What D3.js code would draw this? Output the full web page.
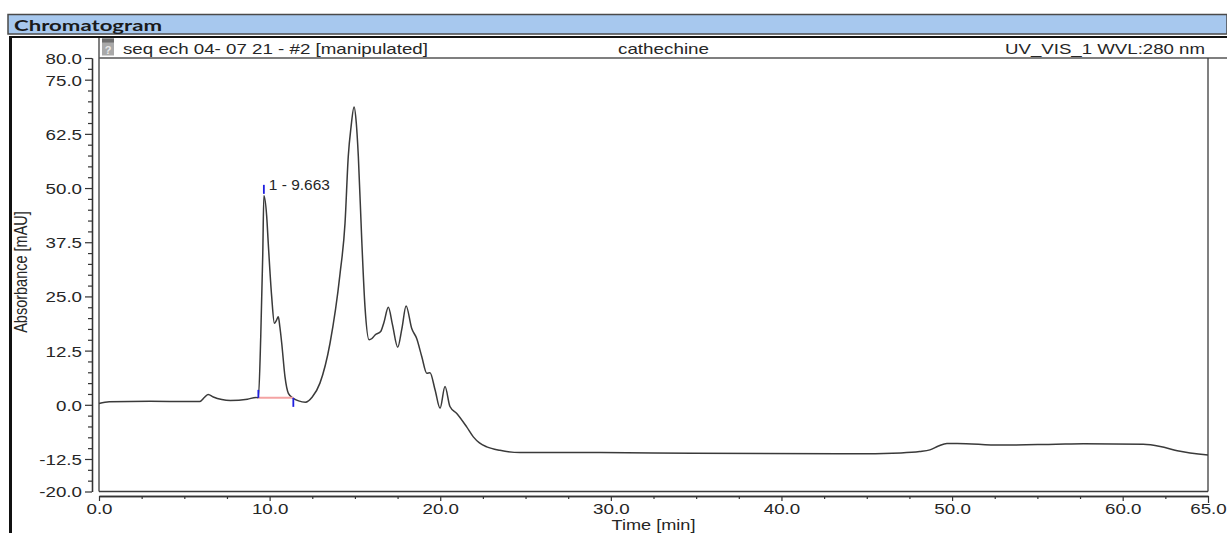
<!DOCTYPE html>
<html>
<head>
<meta charset="utf-8">
<script src="https://cdn.jsdelivr.net/npm/d3@7"></script>
<style>
  html, body { margin: 0; padding: 0; background: #fff; }
  svg { display: block; }
  text { font-family: "Liberation Sans", Arial, sans-serif; fill: #262626; }
</style>
</head>
<body>
<svg id="chart" width="1227" height="533"></svg>
<script>
// Retention time (min) and detector signal (mAU), UV_VIS_1 at 280 nm
const times = [0, 0.6, 3.0, 5.3, 5.9, 6.2, 6.4, 6.7, 7.2, 7.7, 8.7, 9.2, 9.34,
  9.48, 9.6, 9.663, 9.83, 9.92, 10.12, 10.28, 10.4, 10.51, 10.6, 10.71, 10.9, 11.1,
  11.39, 11.7, 12.1, 12.5, 12.95, 13.54, 14.13, 14.42, 14.61, 14.77, 14.95, 15.08,
  15.2, 15.4, 15.59, 15.83, 16.0, 16.18, 16.51, 16.7, 16.96, 17.2, 17.51, 17.75,
  18.0, 18.33, 18.62, 18.92, 19.21, 19.4, 19.7, 19.99, 20.28, 20.57, 20.97, 21.55,
  21.94, 22.3, 22.73, 23.5, 24.7, 29.4, 34.8, 44.0, 47.0, 48.1, 48.7, 49.2, 49.7,
  50.3, 52.8, 56.1, 57.7, 61.2, 62.2, 63.2, 65.0];
const absorbance = [0.3, 0.7, 0.8, 0.75, 0.75, 1.8, 2.4, 1.8, 1.2, 1.0, 1.3, 1.7, 1.6,
  15.7, 35.0, 48.2, 43.4, 37.3, 25.0, 18.8, 19.5, 20.3, 18.0, 14.2, 6.5, 2.65,
  1.5, 0.9, 0.6, 1.8, 5.0, 14.2, 30.3, 41.9, 57.3, 64.0, 68.7, 65.0,
  57.3, 38.0, 22.6, 15.0, 15.3, 16.1, 16.9, 19.0, 22.5, 18.5, 13.3, 17.5,
  22.8, 17.6, 15.3, 11.1, 7.3, 7.4, 3.4, -0.8, 4.2, -0.4, -2.0, -5.1,
  -7.4, -8.8, -9.7, -10.5, -11.0, -11.0, -11.2, -11.3, -11.1, -10.8, -10.4, -9.5, -8.9,
  -8.9, -9.3, -9.1, -9.0, -9.1, -9.6, -10.6, -11.6];

// Integrated peak
const peakNumbers = [1];
const peakTimes = [9.663];
const peakHeights = [48.2];
const peakStarts = [9.34];
const peakEnds = [11.39];
const peakBaselines = [1.6];

// Axis ticks
const yMajorTicks = [80, 75, 62.5, 50, 37.5, 25, 12.5, 0, -12.5, -20];
const xMajorTicks = [0, 10, 20, 30, 40, 50, 60, 65];
const tickStep = 2.5;

// Report header texts
const panelTitle = "Chromatogram";
const injectionName = "seq ech 04- 07 21 - #2 [manipulated]";
const sampleName = "cathechine";
const channelName = "UV_VIS_1 WVL:280 nm";
const xTitle = "Time [min]";
const yTitle = "Absorbance [mAU]";

const svg = d3.select("#chart");
const W = 1227, H = 533;
const plot = { left: 99, right: 1208, top: 58, bottom: 491.5 };
const stretch = 1.25;

const x = d3.scaleLinear().domain([0, 65]).range([plot.left, plot.right]);
const y = d3.scaleLinear().domain([-20, 80]).range([plot.bottom, plot.top]);

// ---- Report panel chrome ----
svg.append("rect").attr("x", 8).attr("y", 14.5).attr("width", W - 8).attr("height", 19.5)
  .attr("fill", "#a7c8ee").attr("stroke", "#4a4a4a").attr("stroke-width", 1.5);
svg.append("text").attr("x", 14).attr("y", 30.5)
  .attr("textLength", 148).attr("lengthAdjust", "spacingAndGlyphs")
  .style("font-family", "Lato, 'Open Sans', sans-serif").style("font-weight", 700)
  .style("font-size", "15.5px").style("fill", "#1a1a1a").text(panelTitle);

svg.append("line").attr("x1", 9).attr("x2", W).attr("y1", 37).attr("y2", 37)
  .attr("stroke", "#111").attr("stroke-width", 2);
svg.append("line").attr("x1", 10.5).attr("x2", 10.5).attr("y1", 36).attr("y2", H)
  .attr("stroke", "#111").attr("stroke-width", 3);

// Plot frame and title row
const frame = svg.append("g").attr("fill", "none").attr("stroke", "#3c3c3c").attr("stroke-width", 1.3);
frame.append("line").attr("x1", plot.left).attr("x2", plot.left).attr("y1", 38).attr("y2", plot.bottom);
frame.append("line").attr("x1", plot.left).attr("x2", W).attr("y1", plot.top).attr("y2", plot.top).attr("stroke", "#555");
frame.append("line").attr("x1", plot.right).attr("x2", plot.right).attr("y1", plot.top).attr("y2", plot.bottom);
frame.append("line").attr("x1", plot.left).attr("x2", plot.right).attr("y1", plot.bottom).attr("y2", plot.bottom);

// Small document icon in the title row
const icon = svg.append("g").attr("transform", "translate(102,38.5)");
icon.append("rect").attr("width", 12).attr("height", 17).attr("fill", "#a9a9a9");
icon.append("rect").attr("width", 12).attr("height", 4).attr("fill", "#6f6f6f");
icon.append("text").attr("x", 6).attr("y", 15).attr("text-anchor", "middle")
  .style("font-size", "11px").style("font-weight", 700).style("fill", "#eaeaea").text("?");

const titleRow = svg.append("g").style("font-size", "15px");
titleRow.append("text").attr("x", 123).attr("y", 53.5)
  .attr("textLength", 305).attr("lengthAdjust", "spacingAndGlyphs").text(injectionName);
titleRow.append("text").attr("x", 618).attr("y", 53.5)
  .attr("textLength", 91).attr("lengthAdjust", "spacingAndGlyphs").text(sampleName);
titleRow.append("text").attr("x", 1005).attr("y", 53.5)
  .attr("textLength", 200).attr("lengthAdjust", "spacingAndGlyphs").text(channelName);

// ---- Axes ----
const allTicks = d3.range(-20, 80 + 1e-9, tickStep);
const yMinor = allTicks.filter(v => !yMajorTicks.some(m => Math.abs(m - v) < 1e-9));
const xAll = d3.range(0, 65 + 1e-9, tickStep);
const xMinor = xAll.filter(v => !xMajorTicks.some(m => Math.abs(m - v) < 1e-9));
const fmt = v => v.toFixed(1);

const yAxisX = 92;
const gyMinor = svg.append("g").attr("transform", `translate(${yAxisX},0)`)
  .call(d3.axisLeft(y).tickValues(yMinor).tickSize(4).tickSizeOuter(0).tickFormat(""));
const gy = svg.append("g").attr("transform", `translate(${yAxisX},0)`)
  .call(d3.axisLeft(y).tickValues(yMajorTicks).tickSize(7).tickSizeOuter(0).tickFormat(fmt));
gy.selectAll("text").attr("x", -8).attr("dy", "0.36em")
  .attr("transform", `scale(${stretch},1)`).style("font-size", "15px").style("fill", "#262626");

const xAxisY = 496;
const gxMinor = svg.append("g").attr("transform", `translate(0,${xAxisY})`)
  .call(d3.axisBottom(x).tickValues(xMinor).tickSize(3).tickSizeOuter(0).tickFormat(""));
const gx = svg.append("g").attr("transform", `translate(0,${xAxisY})`)
  .call(d3.axisBottom(x).tickValues(xMajorTicks).tickSize(5).tickSizeOuter(0).tickFormat(fmt));
gx.selectAll("text").attr("y", 7).attr("dy", "0.71em")
  .attr("transform", `scale(${stretch},1)`).style("font-size", "15px").style("fill", "#262626");
gx.selectAll(".tick").filter(d => d === 65).select("line").attr("y2", 7);

[gyMinor, gy, gxMinor, gx].forEach(g => {
  g.select(".domain").attr("stroke", "#333").attr("stroke-width", 1.3);
  g.selectAll(".tick line").attr("stroke", "#333").attr("stroke-width", 1.2);
});

// Axis titles
const xTitleX = (plot.left + plot.right) / 2, xTitleY = 529.5;
svg.append("text")
  .attr("transform", `translate(${xTitleX},${xTitleY}) scale(${stretch},1)`)
  .attr("text-anchor", "middle").style("font-size", "14.5px").text(xTitle);
svg.append("text")
  .attr("transform", `translate(27,272) scale(${stretch},1) rotate(-90)`)
  .attr("text-anchor", "middle").style("font-size", "14.5px").text(yTitle);

// ---- Signal trace ----
const series = times.map((t, i) => ({ t, v: absorbance[i] }));
const line = d3.line().x(d => x(d.t)).y(d => y(d.v)).curve(d3.curveMonotoneX);
svg.append("path").datum(series).attr("d", line)
  .attr("fill", "none").attr("stroke", "#3a3a3a").attr("stroke-width", 1.5)
  .attr("stroke-linejoin", "round");

// ---- Peak integration marks ----
const peaks = peakNumbers.map((n, i) => ({
  n, rt: peakTimes[i], h: peakHeights[i], start: peakStarts[i], end: peakEnds[i], base: peakBaselines[i]
}));
const pk = svg.append("g");
peaks.forEach(p => {
  pk.append("line").attr("x1", x(p.start)).attr("x2", x(p.end))
    .attr("y1", y(p.base)).attr("y2", y(p.base))
    .attr("stroke", "#f4a3a3").attr("stroke-width", 2);
  pk.append("line").attr("x1", x(p.start)).attr("x2", x(p.start))
    .attr("y1", y(p.base) - 8).attr("y2", y(p.base))
    .attr("stroke", "#1f1fe0").attr("stroke-width", 1.8);
  pk.append("line").attr("x1", x(p.end)).attr("x2", x(p.end))
    .attr("y1", y(p.base)).attr("y2", y(p.base) + 9)
    .attr("stroke", "#1f1fe0").attr("stroke-width", 1.8);
  const topY = y(p.h) - 11;
  pk.append("line").attr("x1", x(p.rt)).attr("x2", x(p.rt))
    .attr("y1", topY).attr("y2", topY + 9)
    .attr("stroke", "#1f1fe0").attr("stroke-width", 1.8);
  pk.append("text").attr("x", x(p.rt) + 5).attr("y", topY + 5.5)
    .attr("textLength", 61).attr("lengthAdjust", "spacingAndGlyphs")
    .style("font-size", "14px").text(`${p.n} - ${p.rt.toFixed(3)}`);
});
</script>
</body>
</html>
